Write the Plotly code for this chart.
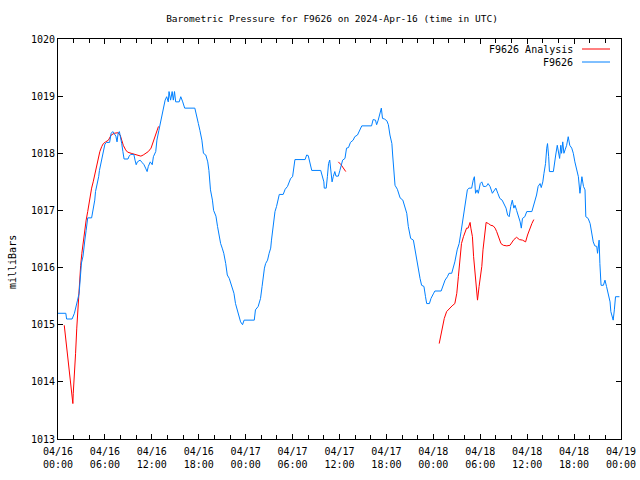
import plotly.graph_objects as go

# Hours since 2024-04-16 00:00 UTC, pressure in milliBars
station_hours = [0.0, 1.0, 1.1, 1.8, 2.1, 2.3, 2.5, 2.7, 2.8, 2.9, 3.0, 3.2, 3.3, 3.45, 3.6, 3.7, 3.8, 4.3, 4.4, 4.6,
                 4.7, 4.8, 5.0, 5.2, 5.3, 5.5, 5.7, 5.85, 6.0, 6.2, 6.6, 6.8, 7.0, 7.2, 7.4, 7.55, 7.7, 7.85, 8.0, 8.15,
                 8.3, 8.45, 8.95, 9.1, 9.3, 9.7, 9.85, 10.0, 10.15, 10.5, 10.75, 11.0, 11.2, 11.4, 11.55, 11.8, 12.05,
                 12.2, 12.5, 12.65, 12.9, 13.2, 13.5, 13.7, 13.9, 14.1, 14.2, 14.4, 14.6, 14.75, 14.9, 15.05, 15.5,
                 15.7, 15.95, 16.2, 17.5, 17.7, 17.95, 18.15, 18.4, 18.6, 18.9, 19.15, 19.3, 19.5, 19.75, 19.9, 20.2,
                 20.4, 20.6, 20.8, 21.0, 21.2, 21.45, 21.65, 21.9, 22.1, 22.3, 22.5, 22.7, 22.9, 23.15, 23.35, 23.6,
                 23.8, 25.1, 25.25, 25.6, 25.7, 25.9, 26.1, 26.25, 26.4, 26.55, 26.8, 27.0, 27.2, 27.3, 27.45, 27.6,
                 27.75, 27.95, 28.2, 28.3, 28.8, 29.05, 29.35, 29.6, 29.75, 30.0, 30.1, 30.3, 31.6, 31.8, 32.0, 32.2,
                 32.45, 33.6, 33.75, 34.0, 34.05, 34.3, 34.45, 34.6, 34.75, 34.9, 35.05, 35.2, 35.4, 35.55, 35.85,
                 36.05, 36.2, 36.4, 36.7, 36.9, 37.15, 37.4, 37.75, 37.95, 38.3, 38.55, 38.85, 40.1, 40.3, 40.6,
                 40.75, 40.95, 41.2, 41.35, 41.5, 41.75, 42.05, 42.25, 42.45, 42.7, 42.8, 42.95, 43.1, 43.4, 43.75,
                 44.1, 44.35, 44.6, 44.8, 45.1, 45.45, 45.65, 45.85, 46.05, 46.3, 46.5, 46.8, 47.0, 47.15, 47.5,
                 47.7, 48.0, 48.2, 49.0, 49.2, 49.5, 49.8, 50.0, 50.35, 50.55, 50.75, 51.05, 51.3, 51.55, 51.75,
                 51.9, 52.15, 52.35, 52.55, 52.9, 53.1, 53.25, 53.4, 53.6, 53.75, 54.0, 54.2, 54.4, 54.7, 54.9,
                 55.0, 55.25, 55.55, 55.8, 56.0, 56.25, 56.5, 56.8, 57.05, 57.3, 57.5, 57.7, 57.9, 58.1, 58.3,
                 58.45, 58.65, 58.85, 59.1, 59.25, 59.4, 59.7, 59.95, 60.6, 60.8, 61.0, 61.2, 61.4, 61.65, 61.8,
                 62.0, 62.15, 62.35, 62.5, 62.6, 62.75, 62.85, 63.35, 63.45, 63.65, 63.85, 64.05, 64.15, 64.3,
                 64.4, 64.55, 64.7, 64.85, 65.05, 65.25, 65.45, 65.7, 65.9, 66.1, 66.35, 66.55, 66.75, 66.9, 67.0,
                 67.2, 67.4, 67.5, 67.8, 68.05, 68.25, 68.45, 68.65, 68.9, 69.0, 69.2, 69.3, 69.45, 69.75, 69.95,
                 70.15, 70.35, 70.6, 70.7, 70.9, 71.0, 71.15, 71.3, 71.8]
station_mb = [1015.2, 1015.2, 1015.1, 1015.1, 1015.2, 1015.35, 1015.43, 1015.55, 1015.73, 1015.9, 1016.08, 1016.2,
              1016.37, 1016.5, 1016.65, 1016.8, 1016.87, 1016.87, 1016.95, 1017.07, 1017.18, 1017.33, 1017.44,
              1017.59, 1017.7, 1017.85, 1018.0, 1018.07, 1018.16, 1018.19, 1018.19, 1018.35, 1018.38, 1018.34,
              1018.3, 1018.2, 1018.36, 1018.38, 1018.3, 1018.17, 1018.03, 1017.9, 1017.9, 1017.95, 1017.98,
              1017.98, 1017.88, 1017.8, 1017.85, 1017.88, 1017.84, 1017.8, 1017.74, 1017.68, 1017.77, 1017.85,
              1017.8, 1017.94, 1018.03, 1018.23, 1018.4, 1018.58, 1018.76, 1018.93, 1018.99, 1018.9, 1019.08,
              1018.93, 1019.08, 1018.93, 1019.08, 1018.9, 1018.9, 1018.99, 1018.9, 1018.79, 1018.79, 1018.64,
              1018.52, 1018.4, 1018.23, 1018.0, 1017.97, 1017.85, 1017.7, 1017.36, 1017.18, 1017.0, 1016.9,
              1016.72, 1016.54, 1016.42, 1016.34, 1016.25, 1016.07, 1015.87, 1015.81, 1015.72, 1015.64, 1015.55,
              1015.37, 1015.26, 1015.14, 1015.05, 1015.0, 1015.08, 1015.08, 1015.26, 1015.32, 1015.37, 1015.46,
              1015.67, 1015.84, 1015.99, 1016.07, 1016.13, 1016.25, 1016.34, 1016.48, 1016.69, 1016.86, 1016.98,
              1017.07, 1017.21, 1017.28, 1017.28, 1017.37, 1017.42, 1017.49, 1017.56, 1017.59, 1017.68, 1017.89,
              1017.89, 1017.97, 1017.96, 1017.85, 1017.7, 1017.7, 1017.62, 1017.5, 1017.39, 1017.39, 1017.59,
              1017.82, 1017.88, 1017.7, 1017.5, 1017.59, 1017.68, 1017.6, 1017.6, 1017.7, 1017.79, 1017.88,
              1017.91, 1018.09, 1018.1, 1018.19, 1018.23, 1018.29, 1018.32, 1018.4, 1018.48, 1018.48, 1018.59,
              1018.58, 1018.5, 1018.58, 1018.7, 1018.79, 1018.61, 1018.6, 1018.57, 1018.5, 1018.32, 1018.17,
              1017.97, 1017.59, 1017.44, 1017.37, 1017.22, 1017.18, 1017.07, 1016.95, 1016.72, 1016.51, 1016.48,
              1016.31, 1016.13, 1015.99, 1015.81, 1015.69, 1015.67, 1015.49, 1015.37, 1015.37, 1015.46, 1015.54,
              1015.59, 1015.59, 1015.67, 1015.78, 1015.84, 1015.9, 1015.9, 1015.99, 1016.1, 1016.31, 1016.42,
              1016.63, 1016.83, 1017.0, 1017.21, 1017.36, 1017.39, 1017.39, 1017.53, 1017.59, 1017.3, 1017.36,
              1017.3, 1017.47, 1017.5, 1017.42, 1017.42, 1017.44, 1017.47, 1017.42, 1017.3, 1017.36, 1017.39,
              1017.3, 1017.21, 1017.18, 1017.12, 1017.04, 1016.92, 1016.89, 1017.07, 1017.18, 1017.04, 1017.09,
              1017.0, 1016.92, 1016.8, 1016.69, 1016.86, 1016.89, 1016.98, 1016.98, 1017.07, 1017.15, 1017.27,
              1017.42, 1017.47, 1017.4, 1017.5, 1017.65, 1017.82, 1018.09, 1018.17, 1017.94, 1017.68, 1017.68,
              1017.82, 1017.97, 1018.14, 1018.0, 1017.91, 1018.14, 1018.0, 1018.2, 1018.0, 1018.06, 1018.14,
              1018.29, 1018.14, 1018.09, 1018.0, 1017.85, 1017.7, 1017.59, 1017.3, 1017.5, 1017.59, 1017.42,
              1017.36, 1016.89, 1016.86, 1016.77, 1016.63, 1016.45, 1016.38, 1016.37, 1016.25, 1016.48, 1016.07,
              1015.69, 1015.69, 1015.78, 1015.67, 1015.55, 1015.4, 1015.23, 1015.14, 1015.08, 1015.26, 1015.49,
              1015.49]

analysis_hours = [0.8, 1.0, 1.1, 1.25, 1.4, 1.55, 1.65, 1.8, 1.9, 1.95, 2.1, 2.25, 2.4, 2.5, 2.65, 2.8, 2.9, 3.05,
                  3.2, 3.3, 3.45, 3.6, 3.8, 3.95, 4.15, 4.3, 4.5, 4.65, 4.8, 5.0, 5.15, 5.35, 5.6, 5.8, 6.1, 6.45,
                  6.8, 7.2, 7.65, 7.95, 8.15, 8.35, 8.65, 8.9, 9.35, 9.85, 10.25, 10.6, 10.9, 11.2, 11.55, 11.9,
                  12.1, 12.3, 12.55, 12.85,
                  None,
                  35.85, 36.2, 36.8,
                  None,
                  48.75, 49.0, 49.2, 49.4, 49.7, 50.05, 50.4, 50.75, 51.0, 51.2, 51.4, 51.6, 51.85, 52.05, 52.25,
                  52.45, 52.7, 52.8, 53.0, 53.15, 53.35, 53.5, 53.65, 53.85, 54.0, 54.2, 54.35, 54.5, 54.65, 54.75,
                  55.05, 55.35, 55.65, 55.9, 56.1, 56.4, 56.65, 56.95, 57.4, 57.8, 58.0, 58.3, 58.65, 59.0, 59.4,
                  59.8, 60.05, 60.35, 60.6, 60.85]
analysis_mb = [1014.99, 1014.73, 1014.56, 1014.38, 1014.21, 1014.06, 1013.89, 1013.71, 1013.62, 1013.8, 1014.09,
               1014.5, 1014.94, 1015.2, 1015.43, 1015.78, 1016.04, 1016.25, 1016.42, 1016.57, 1016.72, 1016.83,
               1016.98, 1017.12, 1017.27, 1017.39, 1017.5, 1017.59, 1017.7, 1017.79, 1017.91, 1018.03, 1018.12,
               1018.17, 1018.2, 1018.23, 1018.32, 1018.35, 1018.36, 1018.32, 1018.23, 1018.14, 1018.06, 1018.02,
               1018.0, 1017.98, 1017.97, 1017.95, 1017.97, 1018.0, 1018.03, 1018.09, 1018.17, 1018.26, 1018.35,
               1018.47,
               None,
               1017.85, 1017.8, 1017.68,
               None,
               1014.67, 1014.82, 1014.97, 1015.11, 1015.23, 1015.29, 1015.33, 1015.37, 1015.55, 1015.84, 1016.13,
               1016.42, 1016.54, 1016.63, 1016.69, 1016.69, 1016.79, 1016.69, 1016.54, 1016.19, 1015.84, 1015.67,
               1015.43, 1015.67, 1015.84, 1016.02, 1016.31, 1016.54, 1016.69, 1016.79, 1016.77, 1016.74, 1016.73,
               1016.69, 1016.63, 1016.51, 1016.42, 1016.39, 1016.38, 1016.39, 1016.43, 1016.49, 1016.53, 1016.49,
               1016.48, 1016.45, 1016.57, 1016.69, 1016.77, 1016.84]

tick_hours = [0, 6, 12, 18, 24, 30, 36, 42, 48, 54, 60, 66, 72]
tick_labels = ["04/16<br>00:00", "04/16<br>06:00", "04/16<br>12:00", "04/16<br>18:00",
               "04/17<br>00:00", "04/17<br>06:00", "04/17<br>12:00", "04/17<br>18:00",
               "04/18<br>00:00", "04/18<br>06:00", "04/18<br>12:00", "04/18<br>18:00",
               "04/19<br>00:00"]
y_ticks = [1013, 1014, 1015, 1016, 1017, 1018, 1019, 1020]

series_names = ["F9626 Analysis", "F9626"]
series_colors = ["#ff0000", "#0080ff"]

FONT = "DejaVu Sans Mono"
L, R, T, B = 58, 19, 39, 41
PW, PH = 640 - L - R, 480 - T - B


def px_x(x):
    return (x - L) / PW


def px_y(y):
    return 1 - (y - T) / PH


fig = go.Figure()
fig.add_trace(go.Scatter(x=analysis_hours, y=analysis_mb, mode="lines", name=series_names[0],
                         line=dict(color=series_colors[0], width=1), connectgaps=False, showlegend=False))
fig.add_trace(go.Scatter(x=station_hours, y=station_mb, mode="lines", name=series_names[1],
                         line=dict(color=series_colors[1], width=1), showlegend=False))

# legend drawn gnuplot-style (text then line sample)
for i, (nm, col) in enumerate(zip(series_names, series_colors)):
    yy = 49 + i * 13
    fig.add_annotation(text=nm, xref="paper", yref="paper", x=px_x(575), y=px_y(yy),
                       xanchor="right", yanchor="middle", showarrow=False,
                       font=dict(family=FONT, size=10, color="black"))
    fig.add_shape(type="line", xref="paper", yref="paper",
                  x0=px_x(582), x1=px_x(610), y0=px_y(yy), y1=px_y(yy),
                  line=dict(color=col, width=1))

# y-axis title
fig.add_annotation(text="milliBars", xref="paper", yref="paper", x=px_x(12), y=px_y(262),
                   xanchor="center", yanchor="middle", textangle=-90, showarrow=False,
                   font=dict(family=FONT, size=10, color="black"))

fig.update_layout(
    width=640, height=480,
    margin=dict(l=L, r=R, t=T, b=B),
    paper_bgcolor="white", plot_bgcolor="white",
    font=dict(family=FONT, size=10, color="black"),
    title=dict(text="Barometric Pressure for F9626 on 2024-Apr-16 (time in UTC)",
               xref="container", x=332 / 640, xanchor="center", y=1 - 19 / 480, yanchor="middle",
               font=dict(family=FONT, size=9.5)),
    showlegend=False,
)
fig.update_xaxes(range=[0, 72], tickvals=tick_hours, ticktext=tick_labels, automargin=False,
                 showgrid=False, zeroline=False, showline=True, linecolor="black", linewidth=1,
                 mirror="allticks", ticks="inside", ticklen=5, tickcolor="black",
                 minor=dict(dtick=2, ticks="inside", ticklen=4, tickcolor="black"),
                 ticklabelstandoff=3,
                 tickfont=dict(family=FONT, size=10))
fig.update_yaxes(range=[1013, 1020], tickvals=y_ticks, ticktext=[str(v) for v in y_ticks], automargin=False,
                 showgrid=False, zeroline=False, showline=True, linecolor="black", linewidth=1,
                 mirror="allticks", ticks="inside", ticklen=5, tickcolor="black",
                 tickfont=dict(family=FONT, size=10))

fig.write_html("out.html", config={"displayModeBar": False},
               post_script="document.body.style.margin='0';document.body.style.padding='0';")
